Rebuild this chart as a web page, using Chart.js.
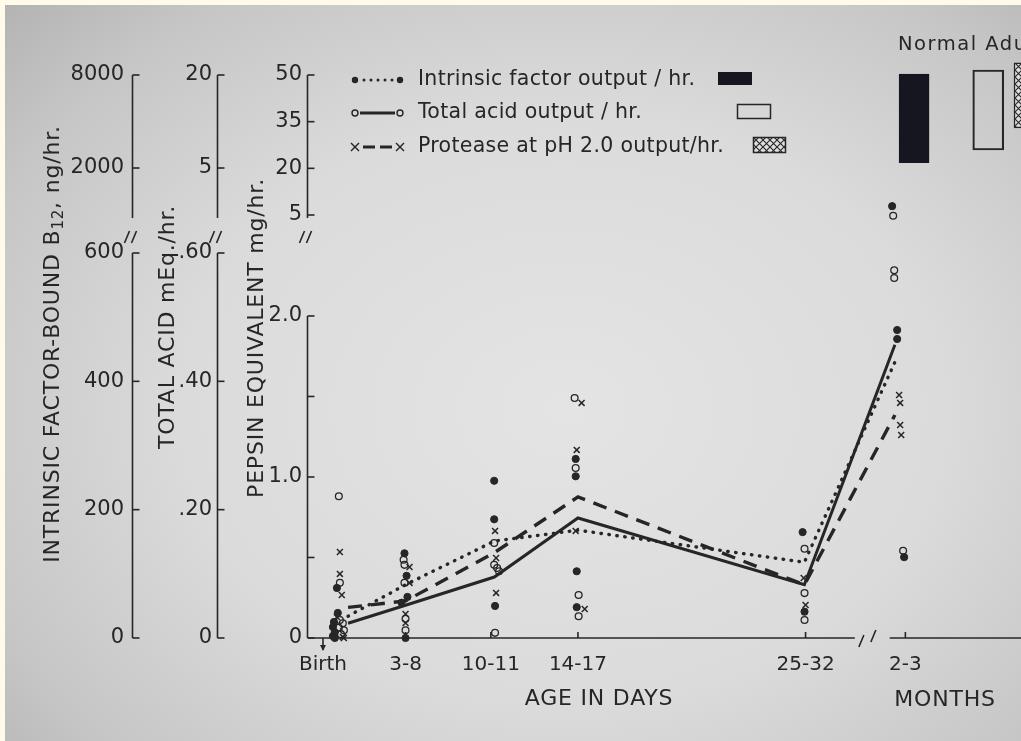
<!DOCTYPE html>
<html lang="en">
<head>
<meta charset="UTF-8">
<title>Gastric secretion in infancy</title>
<script src="https://cdn.jsdelivr.net/npm/chart.js"></script>
<style>
  html, body { margin: 0; padding: 0; overflow: hidden; background: #fffbe8; }
  body { width: 1021px; height: 741px; position: relative; }
  .photo {
    position: absolute; left: 5px; top: 5px; width: 1016px; height: 736px; overflow: hidden;
    background: radial-gradient(ellipse 75% 80% at 55% 55%, #e4e4e4 0%, #dbdbdb 50%, #c6c6c6 82%, #b4b4b4 100%);
  }
  #chart { position: absolute; left: -5px; top: -5px; }
</style>
</head>
<body>
<div class="photo"><canvas id="chart" width="1080" height="741"></canvas></div>

<script>
// age groups (x in days-like plot units)
const ageLabels = ['Birth', '3-8', '10-11', '14-17', '25-32', '2-3'];
const agePos = [0.86, 5.6, 10.5, 15.5, 28.57, 34.3];
const meanPos = [2.3, 5.6, 10.7, 15.5, 28.5, 33.7];
const xBreak = [31.4, 33.4];

// group means
const ifMean = [34, 83, 151, 168, 118, 430];                   // ng/hr
const acidMean = [0.023, 0.051, 0.095, 0.187, 0.083, 0.457];  // mEq/hr
const protMean = [0.19, 0.23, 0.53, 0.876, 0.33, 1.385];      // mg/hr

// individual infants: intrinsic factor (filled dots)
const ifX = [1.66, 1.71, 1.49, 1.43, 1.54, 1.43, 1.54,
  5.54, 5.66, 5.71, 5.37, 5.6,
  10.69, 10.69, 10.74,
  15.37, 15.37, 15.43, 15.43,
  28.4, 28.51,
  33.54, 33.83, 33.83, 34.23];
const ifY = [78, 39, 25, 17, 9, 3, 0,
  132, 97, 64, 55, 0,
  245, 185, 50,
  279, 252, 104, 48,
  165, 41,
  673, 480, 466, 126];

// total acid (open circles)
const acidX = [1.77, 1.83, 1.83, 2.0, 1.77, 2.06, 1.89,
  5.49, 5.54, 5.54, 5.6, 5.6,
  10.69, 10.69, 10.86, 10.97, 10.74,
  15.31, 15.37, 15.54, 15.54,
  28.51, 28.51, 28.51,
  33.6, 33.66, 33.66, 34.17];
const acidY = [0.221, 0.086, 0.028, 0.023, 0.016, 0.012, 0.006,
  0.122, 0.114, 0.086, 0.030, 0.012,
  0.148, 0.114, 0.109, 0.104, 0.008,
  0.374, 0.265, 0.067, 0.034,
  0.139, 0.070, 0.028,
  0.658, 0.573, 0.561, 0.136];

// protease at pH 2.0 (crosses)
const protX = [1.83, 1.83, 1.94, 1.66, 2.0, 2.06,
  5.83, 5.83, 5.6, 5.6,
  10.74, 10.8, 10.8,
  15.71, 15.43, 15.37, 15.89,
  28.46, 28.57,
  33.94, 34.0, 34.0, 34.06];
const protY = [0.534, 0.398, 0.267, 0.130, 0.006, 0,
  0.441, 0.342, 0.149, 0.093,
  0.665, 0.497, 0.280,
  1.46, 1.168, 0.665, 0.180,
  0.373, 0.205,
  1.509, 1.46, 1.323, 1.261];

// normal adult ranges (upper, broken part of the axes)
const normalPos = [34.8, 39.06, 41.4];
const normalIf = [2320, 8060];
const normalAcid = [7.9, 20.8];
const normalProt = [33.0, 53.9];

// axis ticks
const ifTopTicks = [2000, 8000], ifTopLabels = ['2000', '8000'];
const ifBotTicks = [0, 200, 400, 600], ifBotLabels = ['0', '200', '400', '600'];
const acidTopTicks = [5, 20], acidTopLabels = ['5', '20'];
const acidBotTicks = [0, 0.2, 0.4, 0.6], acidBotLabels = ['0', '.20', '.40', '.60'];
const pepTopTicks = [5, 20, 35, 50], pepTopLabels = ['5', '20', '35', '50'];
const pepBotTicks = [0, 0.5, 1, 1.5, 2], pepBotLabels = ['0', '', '1.0', '', '2.0'];

const legendText = ['Intrinsic factor output / hr.', 'Total acid output / hr.', 'Protease at pH 2.0 output/hr.'];

const ink = '#262626';
const FONT = "'DejaVu Sans', 'Liberation Sans', sans-serif";
Chart.defaults.font.family = FONT;
Chart.defaults.color = ink;

const xy = (xs, ys) => xs.map((x, i) => ({ x: x, y: ys[i] }));

function seg(ctx, x1, y1, x2, y2) {
    ctx.beginPath();
    ctx.moveTo(x1, y1);
    ctx.lineTo(x2, y2);
    ctx.stroke();
}

// cross hatch fill for the protease box
const hatch = (() => {
    const c = document.createElement('canvas');
    c.width = 7; c.height = 7;
    const g = c.getContext('2d');
    g.fillStyle = '#dedede';
    g.fillRect(0, 0, 7, 7);
    g.strokeStyle = ink;
    g.lineWidth = 1.1;
    g.beginPath();
    g.moveTo(0, 0); g.lineTo(7, 7);
    g.moveTo(7, 0); g.lineTo(0, 7);
    g.stroke();
    return g.createPattern(c, 'repeat');
})();

function leftAxis(stack, weight, min, max, tickVals, labels, width, pad) {
    return {
        type: 'linear', position: 'left', stack: stack, stackWeight: weight, min: min, max: max,
        grid: { display: false, drawTicks: false },
        border: { display: false },
        ticks: { autoSkip: false, padding: pad, color: ink, font: { size: 21 }, callback: (v, i) => labels[i] },
        afterBuildTicks: sc => { sc.ticks = tickVals.map(v => ({ value: v })); },
        afterFit: sc => { sc.width = width; }
    };
}

function vTitle(ctx, parts, cx, cy) {
    ctx.save();
    ctx.translate(cx, cy);
    ctx.rotate(-Math.PI / 2);
    ctx.letterSpacing = '0.8px';
    ctx.textAlign = 'left';
    ctx.textBaseline = 'middle';
    let w = 0;
    parts.forEach(p => { ctx.font = p[1] + 'px ' + FONT; w += ctx.measureText(p[0]).width; });
    let xx = -w / 2;
    parts.forEach(p => {
        ctx.font = p[1] + 'px ' + FONT;
        ctx.fillText(p[0], xx, p[2]);
        xx += ctx.measureText(p[0]).width;
    });
    ctx.restore();
}

const figureDecor = {
    id: 'figureDecor',
    beforeDatasetsDraw(chart) {
        const { ctx, scales: s, chartArea: area } = chart;
        ctx.save();
        ctx.strokeStyle = ink;
        ctx.fillStyle = ink;
        ctx.lineWidth = 1.6;

        // broken y axes, ticks pointing inwards
        [['ifTop', 'ifBot'], ['acidTop', 'acidBot'], ['pepTop', 'pepBot']].forEach(([tId, bId]) => {
            const top = s[tId], bot = s[bId];
            const xa = bot.right - 0.5;
            const tv = top.ticks.map(t => t.value), bv = bot.ticks.map(t => t.value);
            seg(ctx, xa, top.getPixelForValue(Math.max(...tv)), xa, top.bottom - 16);
            seg(ctx, xa, bot.getPixelForValue(Math.max(...bv)), xa, bot.getPixelForValue(0));
            tv.forEach(v => { const y = top.getPixelForValue(v); seg(ctx, xa, y, xa + 7, y); });
            bv.forEach(v => { const y = bot.getPixelForValue(v); seg(ctx, xa, y, xa + 7, y); });
            const yb = top.bottom + 3;
            seg(ctx, xa - 8, yb + 6, xa - 3, yb - 6);
            seg(ctx, xa - 1, yb + 6, xa + 4, yb - 6);
        });

        // x axis with break before months
        const x = s.x, y0 = area.bottom;
        const b1 = x.getPixelForValue(xBreak[0]), b2 = x.getPixelForValue(xBreak[1]);
        seg(ctx, area.left, y0, b1, y0);
        seg(ctx, b2, y0, area.right, y0);
        seg(ctx, b1 + 4, y0 + 9, b1 + 9, y0 - 3);
        seg(ctx, b1 + 16, y0 + 4, b1 + 21, y0 - 8);
        agePos.forEach((v, i) => {
            const px = x.getPixelForValue(v);
            if (i === 0) {
                seg(ctx, px, y0, px, y0 + 12);
                ctx.beginPath();
                ctx.moveTo(px - 3, y0 + 7);
                ctx.lineTo(px + 3, y0 + 7);
                ctx.lineTo(px, y0 + 13);
                ctx.fill();
            } else {
                seg(ctx, px, y0, px, y0 - 6);
            }
        });

        // axis titles
        ctx.textAlign = 'center';
        ctx.textBaseline = 'middle';
        ctx.letterSpacing = '0.8px';
        ctx.font = '22px ' + FONT;
        ctx.fillText('AGE IN DAYS', 599, 699);
        ctx.fillText('MONTHS', 945, 700);
        vTitle(ctx, [['INTRINSIC FACTOR-BOUND B', 22, 0], ['12', 15, 6], [', ng/hr.', 22, 0]], 53, 344);
        vTitle(ctx, [['TOTAL ACID mEq./hr.', 22, 0]], 168, 327);
        vTitle(ctx, [['PEPSIN EQUIVALENT mg/hr.', 22, 0]], 257, 338);

        // legend
        const rowY = [80, 113, 147];
        ctx.letterSpacing = '0.3px';
        ctx.textAlign = 'left';
        ctx.font = '20.5px ' + FONT;
        legendText.forEach((t, i) => ctx.fillText(t, 418, rowY[i]));
        ctx.lineWidth = 1.4;
        // row 1: dotted with filled ends
        [355, 400].forEach(cx => { ctx.beginPath(); ctx.arc(cx, rowY[0], 3.2, 0, Math.PI * 2); ctx.fill(); });
        for (let cx = 364; cx <= 392; cx += 7) { ctx.beginPath(); ctx.arc(cx, rowY[0], 1.5, 0, Math.PI * 2); ctx.fill(); }
        // row 2: solid with open ends
        [355, 400].forEach(cx => { ctx.beginPath(); ctx.arc(cx, rowY[1], 3, 0, Math.PI * 2); ctx.stroke(); });
        ctx.lineWidth = 3;
        seg(ctx, 360, rowY[1], 395, rowY[1]);
        // row 3: dashed with crosses
        seg(ctx, 363, rowY[2], 375, rowY[2]);
        seg(ctx, 380, rowY[2], 392, rowY[2]);
        ctx.lineWidth = 1.5;
        [355, 400].forEach(cx => {
            seg(ctx, cx - 4, rowY[2] - 4, cx + 4, rowY[2] + 4);
            seg(ctx, cx - 4, rowY[2] + 4, cx + 4, rowY[2] - 4);
        });
        // legend boxes
        ctx.fillStyle = '#161620';
        ctx.fillRect(718, 72, 34, 13);
        ctx.strokeRect(737.5, 104.5, 33, 14);
        ctx.fillStyle = hatch;
        ctx.fillRect(753, 137, 32, 15);
        ctx.strokeRect(753.5, 137.5, 32, 15);

        ctx.fillStyle = ink;
        ctx.letterSpacing = '1.5px';
        ctx.font = '19.5px ' + FONT;
        ctx.fillText('Normal Adult', 898, 45);
        ctx.restore();
    }
};

new Chart(document.getElementById('chart'), {
    type: 'scatter',
    data: {
        datasets: [
            {
                label: 'Intrinsic factor', data: xy(ifX, ifY), yAxisID: 'ifBot', clip: false,
                pointStyle: 'circle', pointRadius: 3.6, backgroundColor: ink, borderColor: ink, borderWidth: 1
            },
            {
                label: 'Total acid', data: xy(acidX, acidY), yAxisID: 'acidBot', clip: false,
                pointStyle: 'circle', pointRadius: 3.4, backgroundColor: 'rgba(0,0,0,0)', borderColor: ink, borderWidth: 1.3
            },
            {
                label: 'Protease', data: xy(protX, protY), yAxisID: 'pepBot', clip: false,
                pointStyle: 'crossRot', pointRadius: 4.2, borderColor: ink, borderWidth: 1.5
            },
            {
                type: 'line', label: 'Intrinsic factor mean', data: xy(meanPos, ifMean), yAxisID: 'ifBot', clip: false,
                borderColor: ink, borderWidth: 3.4, borderDash: [0.5, 7.5], borderCapStyle: 'round',
                pointRadius: 0, fill: false, tension: 0
            },
            {
                type: 'line', label: 'Total acid mean', data: xy(meanPos, acidMean), yAxisID: 'acidBot', clip: false,
                borderColor: ink, borderWidth: 3, pointRadius: 0, fill: false, tension: 0
            },
            {
                type: 'line', label: 'Protease mean', data: xy(meanPos, protMean), yAxisID: 'pepBot', clip: false,
                borderColor: ink, borderWidth: 3.4, borderDash: [14, 9], pointRadius: 0, fill: false, tension: 0
            },
            {
                type: 'bar', label: 'Normal adult IF', data: [{ x: normalPos[0], y: normalIf }], yAxisID: 'ifTop',
                backgroundColor: '#161620', borderColor: '#161620', borderWidth: 1,
                barThickness: 30, grouped: false, clip: false
            },
            {
                type: 'bar', label: 'Normal adult acid', data: [{ x: normalPos[1], y: normalAcid }], yAxisID: 'acidTop',
                backgroundColor: 'rgba(0,0,0,0)', borderColor: ink, borderWidth: 1.5, borderSkipped: false,
                barThickness: 31, grouped: false, clip: false
            },
            {
                type: 'bar', label: 'Normal adult protease', data: [{ x: normalPos[2], y: normalProt }], yAxisID: 'pepTop',
                backgroundColor: hatch, borderColor: ink, borderWidth: 1.5, borderSkipped: false,
                barThickness: 30, grouped: false, clip: false
            }
        ]
    },
    options: {
        responsive: false,
        animation: false,
        events: [],
        layout: { padding: { top: 75, right: 2, bottom: 0, left: 0 } },
        plugins: { legend: { display: false }, tooltip: { enabled: false } },
        scales: {
            x: {
                type: 'linear', min: 0, max: 44, offset: false,
                grid: { display: false, drawTicks: false, offset: false },
                border: { display: false },
                ticks: { autoSkip: false, maxRotation: 0, padding: 15, color: ink, font: { size: 20 }, callback: (v, i) => ageLabels[i] },
                afterBuildTicks: sc => { sc.ticks = agePos.map(v => ({ value: v })); },
                afterFit: sc => { sc.height = 103; }
            },
            // left boxes are laid out in reverse order, so innermost / lowest first
            pepBot: leftAxis('pep', 404, 0, 2.509, pepBotTicks, pepBotLabels, 90, 6),
            pepTop: leftAxis('pep', 159, -1.107, 50, pepTopTicks, pepTopLabels, 90, 6),
            acidBot: leftAxis('acid', 404, 0, 0.6296, acidBotTicks, acidBotLabels, 85, 6),
            acidTop: leftAxis('acid', 159, -5.645, 20, acidTopTicks, acidTopLabels, 85, 6),
            ifBot: leftAxis('if', 404, 0, 629.6, ifBotTicks, ifBotLabels, 133, 9),
            ifTop: leftAxis('if', 159, -2258, 8000, ifTopTicks, ifTopLabels, 133, 9)
        }
    },
    plugins: [figureDecor]
});
</script>
</body>
</html>
